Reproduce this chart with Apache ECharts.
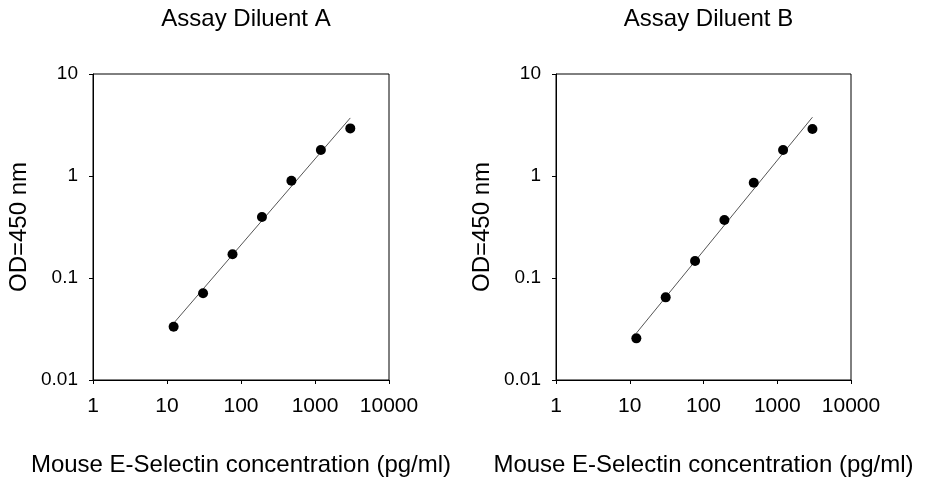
<!DOCTYPE html>
<html>
<head>
<meta charset="utf-8">
<script src="https://cdn.jsdelivr.net/npm/echarts@6/dist/echarts.min.js"></script>
<style>
html,body{margin:0;padding:0;background:#fff;}
#chart{width:926px;height:480px;}
</style>
</head>
<body>
<div id="chart"></div>
<script>
var titles = ['Assay Diluent A', 'Assay Diluent B'];
var xName = 'Mouse E-Selectin concentration (pg/ml)';
var yName = 'OD=450 nm';
var concentrations = [12.29, 30.72, 76.8, 192, 480, 1200, 3000];
var odA = [0.0333, 0.0708, 0.171, 0.396, 0.90, 1.80, 2.93];
var odB = [0.0256, 0.0646, 0.147, 0.370, 0.86, 1.80, 2.89];
var fitX = [12.29, 3000];
var fitA = [0.036, 3.71];
var fitB = [0.0288, 3.77];
var xTickLabels = ['1', '10', '100', '1000', '10000'];
var yTickLabels = ['0.01', '0.1', '1', '10'];

function pairs(xs, ys) { return xs.map(function (x, i) { return [x, ys[i]]; }); }

var font = 'Liberation Sans, Arial, sans-serif';
var grids = [
  {left: 93, top: 74, width: 296, height: 306},
  {left: 556, top: 74, width: 295, height: 306}
];
var chart = echarts.init(document.getElementById('chart'));

function xAxis(i) {
  return {
    type: 'log', logBase: 10, min: 1, max: 10000, gridIndex: i,
    name: xName, nameLocation: 'middle', nameGap: 73,
    nameTextStyle: {fontFamily: font, fontSize: 24, color: '#000'},
    axisLine: {lineStyle: {color: '#000', width: 1}},
    axisTick: {show: true, length: 4, lineStyle: {color: '#000'}},
    minorTick: {show: false},
    splitLine: {show: false},
    axisLabel: {
      fontFamily: font, fontSize: 21, color: '#000', margin: 16,
      formatter: function (v) { return xTickLabels[Math.round(Math.log10(v))]; }
    }
  };
}
function yAxis(i) {
  return {
    type: 'log', logBase: 10, min: 0.01, max: 10, gridIndex: i,
    name: yName, nameLocation: 'middle', nameGap: 62, nameRotate: 90,
    nameTextStyle: {fontFamily: font, fontSize: 24, color: '#000'},
    axisLine: {lineStyle: {color: '#000', width: 1}},
    axisTick: {show: true, length: 4, lineStyle: {color: '#000'}},
    minorTick: {show: false},
    splitLine: {show: false},
    axisLabel: {
      fontFamily: font, fontSize: 19, color: '#000', margin: 15,
      formatter: function (v) { return yTickLabels[Math.round(Math.log10(v)) + 2]; }
    }
  };
}

var option = {
  backgroundColor: '#fff',
  animation: false,
  title: titles.map(function (t, i) {
    return {
      text: t, left: grids[i].left + grids[i].width / 2, top: 2, textAlign: 'center',
      textStyle: {fontFamily: font, fontSize: 24, fontWeight: 'normal', color: '#000'}
    };
  }),
  grid: grids.map(function (g) {
    return Object.assign({show: true, borderColor: '#000', borderWidth: 1, backgroundColor: 'transparent',
      containLabel: false, outerBoundsMode: 'none'}, g);
  }),
  xAxis: [xAxis(0), xAxis(1)],
  yAxis: [yAxis(0), yAxis(1)],
  series: [
    {type: 'line', xAxisIndex: 0, yAxisIndex: 0, data: pairs(fitX, fitA), symbol: 'none',
     lineStyle: {color: '#555', width: 1}, z: 1},
    {type: 'scatter', xAxisIndex: 0, yAxisIndex: 0, data: pairs(concentrations, odA),
     symbolSize: 10, itemStyle: {color: '#000', opacity: 1}, z: 2},
    {type: 'line', xAxisIndex: 1, yAxisIndex: 1, data: pairs(fitX, fitB), symbol: 'none',
     lineStyle: {color: '#555', width: 1}, z: 1},
    {type: 'scatter', xAxisIndex: 1, yAxisIndex: 1, data: pairs(concentrations, odB),
     symbolSize: 10, itemStyle: {color: '#000', opacity: 1}, z: 2}
  ]
};
chart.setOption(option);
</script>
</body>
</html>
